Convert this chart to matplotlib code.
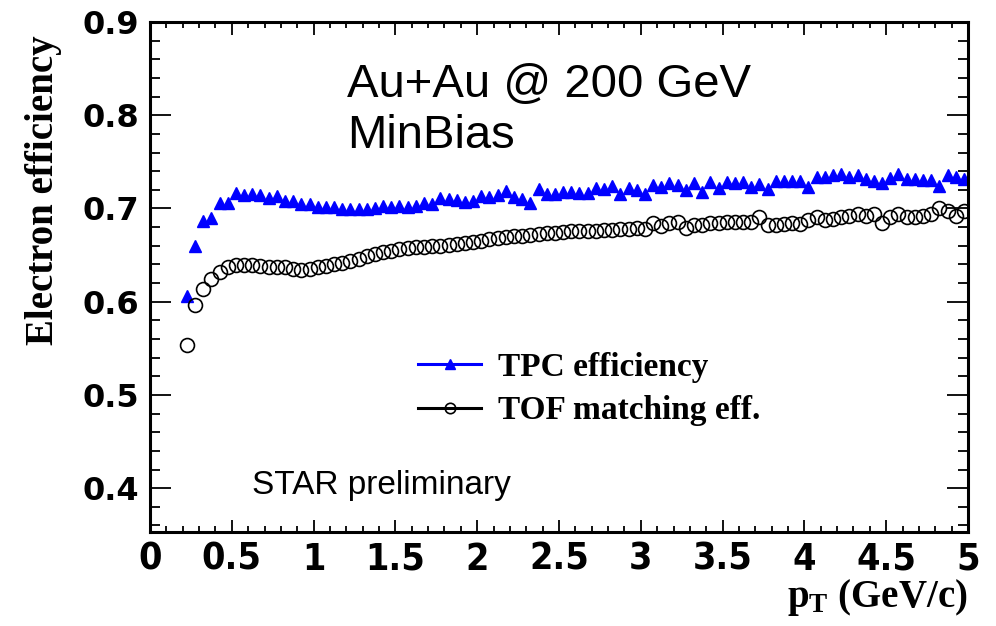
import matplotlib
matplotlib.use("Agg")
import matplotlib.pyplot as plt
from matplotlib.ticker import MultipleLocator
from matplotlib import font_manager

plt.rcParams['mathtext.fontset'] = 'custom'
plt.rcParams['mathtext.rm'] = 'Liberation Serif:bold'
plt.rcParams['mathtext.bf'] = 'Liberation Serif:bold'
plt.rcParams['mathtext.it'] = 'Liberation Serif:bold'

# pT bin centres (GeV/c)
pt = [0.225 + 0.05 * i for i in range(96)]

tpc_eff = [
    0.606, 0.660, 0.687, 0.690, 0.706, 0.706, 0.717, 0.714, 0.715, 0.714,
    0.711, 0.713, 0.708, 0.708, 0.705, 0.705, 0.702, 0.702, 0.702, 0.699,
    0.699, 0.699, 0.699, 0.700, 0.703, 0.702, 0.703, 0.702, 0.703, 0.706,
    0.705, 0.711, 0.710, 0.709, 0.707, 0.708, 0.713, 0.712, 0.714, 0.719,
    0.712, 0.710, 0.706, 0.721, 0.716, 0.716, 0.718, 0.718, 0.717, 0.717,
    0.722, 0.721, 0.724, 0.715, 0.722, 0.720, 0.715, 0.725, 0.723, 0.727,
    0.725, 0.720, 0.727, 0.718, 0.728, 0.722, 0.728, 0.727, 0.728, 0.723,
    0.726, 0.721, 0.730, 0.730, 0.729, 0.729, 0.723, 0.734, 0.734, 0.736,
    0.737, 0.734, 0.736, 0.732, 0.729, 0.727, 0.733, 0.737, 0.732, 0.732,
    0.731, 0.731, 0.724, 0.736, 0.734, 0.732,
]

tof_eff = [
    0.554, 0.597, 0.614, 0.624, 0.632, 0.637, 0.639, 0.639, 0.639, 0.638,
    0.637, 0.637, 0.637, 0.635, 0.634, 0.635, 0.637, 0.638, 0.640, 0.642,
    0.644, 0.646, 0.649, 0.651, 0.653, 0.654, 0.656, 0.658, 0.659, 0.659,
    0.660, 0.660, 0.661, 0.662, 0.663, 0.664, 0.665, 0.667, 0.668, 0.669,
    0.670, 0.671, 0.672, 0.673, 0.674, 0.674, 0.675, 0.676, 0.676, 0.676,
    0.676, 0.677, 0.677, 0.678, 0.678, 0.679, 0.678, 0.684, 0.681, 0.684,
    0.685, 0.679, 0.682, 0.682, 0.684, 0.684, 0.685, 0.686, 0.686, 0.686,
    0.691, 0.682, 0.682, 0.683, 0.684, 0.683, 0.688, 0.691, 0.688, 0.689,
    0.691, 0.692, 0.694, 0.692, 0.694, 0.684, 0.691, 0.694, 0.691, 0.691,
    0.692, 0.694, 0.701, 0.697, 0.692, 0.697,
]

fig = plt.figure(figsize=(9.96, 6.26), dpi=100)
ax = fig.add_axes([150 / 996, 1 - 532 / 626, 818 / 996, 510 / 626])

ax.plot(pt, tpc_eff, linestyle='none', marker='^', ms=9, color='#0000ff',
        label='TPC efficiency')
ax.plot(pt, tof_eff, linestyle='none', marker='o', ms=10, mfc='none',
        mec='black', mew=1.2, label='TOF matching eff.')

ax.set_xlim(0, 5)
ax.set_ylim(0.353, 0.9)

for s in ax.spines.values():
    s.set_linewidth(2.2)

ax.xaxis.set_major_locator(MultipleLocator(0.5))
ax.xaxis.set_minor_locator(MultipleLocator(0.1))
ax.yaxis.set_major_locator(MultipleLocator(0.1))
ax.yaxis.set_minor_locator(MultipleLocator(0.02))
ax.tick_params(which='both', direction='in', top=True, right=True, width=1.3)
ax.tick_params(axis='x', which='major', length=9, pad=7)
ax.tick_params(axis='x', which='minor', length=4.5)
ax.tick_params(axis='y', which='major', length=15, pad=8)
ax.tick_params(axis='y', which='minor', length=7.5)

ax.set_xticks([0, 0.5, 1, 1.5, 2, 2.5, 3, 3.5, 4, 4.5, 5])
ax.set_xticklabels(['0', '0.5', '1', '1.5', '2', '2.5', '3', '3.5', '4', '4.5', '5'])
ax.set_yticks([0.4, 0.5, 0.6, 0.7, 0.8, 0.9])
ax.set_yticklabels(['0.4', '0.5', '0.6', '0.7', '0.8', '0.9'])

# condensed bold face for the pT tick labels, if one is installed
narrow_bold = [f for f in font_manager.fontManager.ttflist
               if ('Narrow' in f.name or f.stretch == 'condensed')
               and f.weight in (700, 'bold') and 'Serif' not in f.name
               and 'Mono' not in f.name]
if narrow_bold:
    xprop = font_manager.FontProperties(fname=narrow_bold[0].fname, size=27)
else:
    xprop = font_manager.FontProperties(family='Liberation Sans', weight='bold', size=23)
for lab in ax.get_xticklabels():
    lab.set_fontproperties(xprop)
for lab in ax.get_yticklabels():
    lab.set_fontfamily('DejaVu Sans')
    lab.set_fontweight('bold')
    lab.set_fontsize(23)

ax.set_ylabel('Electron efficiency', fontfamily='Liberation Serif',
              fontweight='bold', fontsize=28)
ax.yaxis.set_label_coords(-0.108, 0.67)
ax.set_xlabel(r'$\mathbf{p}_{\mathbf{T}}$ (GeV/c)', fontfamily='Liberation Serif',
              fontweight='bold', fontsize=28, ha='right')
ax.xaxis.set_label_coords(1.0, -0.088)

fig.text(347 / 996, 1 - 97 / 626, 'Au+Au @ 200 GeV', fontfamily='Liberation Sans',
         fontsize=34, va='baseline')
fig.text(347 / 996, 1 - 148 / 626, 'MinBias', fontfamily='Liberation Sans',
         fontsize=34, va='baseline')
fig.text(252 / 996, 1 - 494 / 626, 'STAR preliminary', fontfamily='Liberation Sans',
         fontsize=24, va='baseline')

leg = ax.legend(loc='upper left', bbox_to_anchor=(418 / 996, 1 - 352 / 626),
                bbox_transform=fig.transFigure, frameon=False, borderpad=0,
                borderaxespad=0, handlelength=1.9, handletextpad=0.5,
                labelspacing=0.37, markerscale=0.75,
                prop={'family': 'Liberation Serif', 'weight': 'bold', 'size': 24})
for h, c in zip(leg.legend_handles, ['#0000ff', 'black']):
    h.set_linestyle('-')
    h.set_linewidth(2.2)
    h.set_color(c)
    h.set_markeredgecolor(c)

fig.savefig('out.png', dpi=100)
